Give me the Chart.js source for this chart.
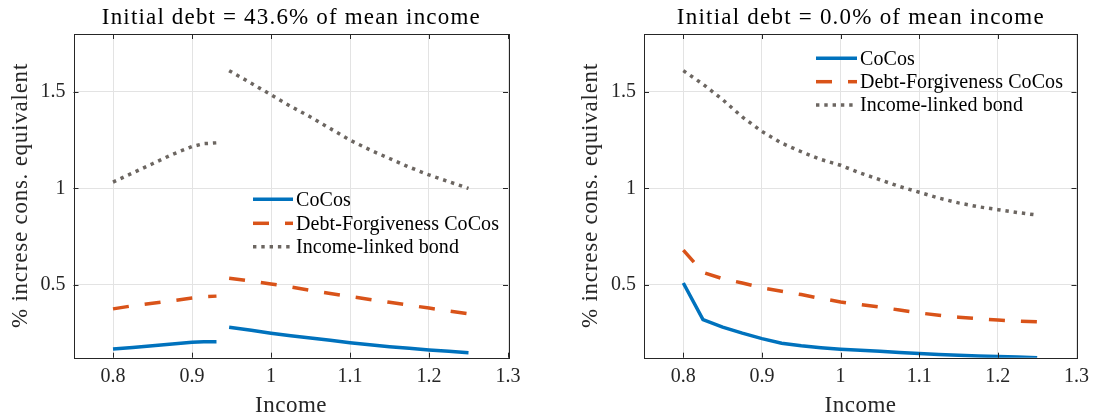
<!DOCTYPE html>
<html>
<head>
<meta charset="utf-8">
<script src="https://cdn.jsdelivr.net/npm/chart.js@4.4.1/dist/chart.umd.min.js"></script>
<style>
  html, body { margin: 0; padding: 0; background: #fff; }
  #wrap { position: relative; width: 1096px; height: 416px; }
  canvas { position: absolute; top: 0; }
</style>
</head>
<body>
<div id="wrap">
  <canvas id="c1" width="548" height="416" style="left:0"></canvas>
  <canvas id="c2" width="548" height="416" style="left:548px"></canvas>
</div>
<script>
// ---------------- data ----------------
const seriesNames = ["CoCos", "Debt-Forgiveness CoCos", "Income-linked bond"];
const xTickValues = [0.8, 0.9, 1.0, 1.1, 1.2, 1.3];
const yTickValues = [0.5, 1.0, 1.5];

// Left panel: initial debt = 43.6% (gap between 0.931 and 0.947)
const leftIncome = [0.8, 0.825, 0.85, 0.875, 0.9, 0.915, 0.931, 0.94, 0.947, 0.975, 1.0, 1.025, 1.05, 1.075, 1.1, 1.125, 1.15, 1.175, 1.2, 1.225, 1.25];
const leftCoCos  = [0.168, 0.176, 0.185, 0.194, 0.203, 0.205, 0.206, null, 0.281, 0.265, 0.25, 0.237, 0.225, 0.213, 0.201, 0.19, 0.18, 0.172, 0.163, 0.156, 0.149];
const leftDFCoCos = [0.376, 0.392, 0.405, 0.418, 0.432, 0.439, 0.442, null, 0.535, 0.52, 0.505, 0.49, 0.472, 0.456, 0.44, 0.425, 0.41, 0.395, 0.38, 0.365, 0.351];
const leftILB    = [1.033, 1.08, 1.128, 1.176, 1.217, 1.232, 1.236, null, 1.61, 1.545, 1.485, 1.425, 1.37, 1.31, 1.25, 1.2, 1.155, 1.11, 1.07, 1.035, 1.0];

// Right panel: initial debt = 0.0%
const rightIncome = [0.8, 0.825, 0.85, 0.875, 0.9, 0.925, 0.95, 0.975, 1.0, 1.025, 1.05, 1.075, 1.1, 1.125, 1.15, 1.175, 1.2, 1.225, 1.25];
const rightCoCos  = [0.51, 0.32, 0.281, 0.25, 0.222, 0.198, 0.185, 0.175, 0.167, 0.161, 0.156, 0.15, 0.145, 0.14, 0.136, 0.132, 0.129, 0.126, 0.123];
const rightDFCoCos = [0.68, 0.565, 0.532, 0.51, 0.485, 0.467, 0.45, 0.43, 0.412, 0.398, 0.385, 0.37, 0.355, 0.343, 0.333, 0.325, 0.318, 0.313, 0.309];
const rightILB    = [1.61, 1.54, 1.46, 1.37, 1.295, 1.235, 1.19, 1.15, 1.12, 1.08, 1.045, 1.01, 0.98, 0.95, 0.925, 0.905, 0.89, 0.875, 0.862];

const titles = ["Initial debt = 43.6% of mean income", "Initial debt = 0.0% of mean income"];
const xTitle = "Income";
const yTitle = "% increse cons. equivalent";

// ---------------- styling ----------------
const FONT = "'Liberation Serif', 'Times New Roman', serif";
const AX = "#262626";
const GRID = "#e3e3e3";
const styles = [
  { color: "#0072BD", dash: [] },
  { color: "#D95319", dash: [16, 16] },
  { color: "#6c6661", dash: [3.4, 4.9] }
];

function pts(xs, ys) { return xs.map((x, i) => ({ x: x, y: ys[i] })); }

// draw text stretched (via letter spacing) to a target width, centred at x
function fitted(ctx, text, x, y, size, targetW, align) {
  ctx.font = size + "px " + FONT;
  ctx.letterSpacing = "0px";
  const w = ctx.measureText(text).width;
  const sp = Math.max(0, (targetW - w) / text.length);
  ctx.letterSpacing = sp + "px";
  ctx.textAlign = align || "center";
  ctx.fillText(text, (align === "left") ? x : x + sp / 2, y);
  ctx.letterSpacing = "0px";
  return sp;
}

const framePlugin = {
  id: "frame",
  afterDraw(chart, args, opts) {
    const { ctx, chartArea: a, scales } = chart;
    ctx.save();
    ctx.strokeStyle = AX;
    ctx.lineWidth = 1;
    ctx.strokeRect(Math.round(a.left) + 0.5, Math.round(a.top) + 0.5, Math.round(a.right - a.left), Math.round(a.bottom - a.top));
    const tl = 5;
    ctx.beginPath();
    xTickValues.forEach(v => {
      const px = Math.round(scales.x.getPixelForValue(v)) + 0.5;
      ctx.moveTo(px, a.bottom); ctx.lineTo(px, a.bottom - tl);
      ctx.moveTo(px, a.top); ctx.lineTo(px, a.top + tl);
    });
    yTickValues.forEach(v => {
      const py = Math.round(scales.y.getPixelForValue(v)) + 0.5;
      ctx.moveTo(a.left, py); ctx.lineTo(a.left + tl, py);
      ctx.moveTo(a.right, py); ctx.lineTo(a.right - tl, py);
    });
    ctx.stroke();

    // titles
    const cx = (a.left + a.right) / 2;
    const cy = (a.top + a.bottom) / 2;
    ctx.textBaseline = "alphabetic";
    ctx.fillStyle = "#000";
    fitted(ctx, opts.title, cx, 23.5, 23, opts.titleW);
    ctx.fillStyle = AX;
    fitted(ctx, xTitle, cx, 411.7, 23, 72);
    ctx.save();
    ctx.translate(opts.yTitleX, cy);
    ctx.rotate(-Math.PI / 2);
    fitted(ctx, yTitle, 0, 0, 23, 265);
    ctx.restore();
    ctx.restore();
  }
};

const legendPlugin = {
  id: "boxLegend",
  afterDraw(chart, args, opts) {
    const { ctx } = chart;
    ctx.save();
    ctx.font = "20px " + FONT;
    const w = ctx.measureText(seriesNames[1]).width;
    const sp = Math.max(0, (203 - w) / seriesNames[1].length);
    ctx.textBaseline = "middle";
    ctx.fillStyle = "#000";
    chart.data.datasets.forEach((ds, i) => {
      const y = opts.rows[i];
      ctx.beginPath();
      ctx.strokeStyle = ds.borderColor;
      ctx.lineWidth = ds.borderWidth;
      ctx.setLineDash(ds.borderDash || []);
      ctx.moveTo(opts.x, y);
      ctx.lineTo(opts.x + opts.len, y);
      ctx.stroke();
      ctx.setLineDash([]);
      ctx.letterSpacing = sp + "px";
      ctx.textAlign = "left";
      ctx.fillText(ds.label, opts.x + opts.len + 3, y + 1);
      ctx.letterSpacing = "0px";
    });
    ctx.restore();
  }
};

function makeChart(id, title, titleW, xs, ys, yAxisWidth, rightPad, yTitleX, legend) {
  const datasets = ys.map((arr, i) => ({
    label: seriesNames[i],
    data: pts(xs, arr),
    borderColor: styles[i].color,
    borderDash: styles[i].dash,
    borderWidth: 3.5,
    borderCapStyle: "butt",
    pointRadius: 0,
    tension: 0,
    spanGaps: false,
    fill: false
  }));
  return new Chart(document.getElementById(id), {
    type: "line",
    data: { datasets },
    plugins: [framePlugin, legendPlugin],
    options: {
      responsive: false,
      animation: false,
      devicePixelRatio: 1,
      layout: { padding: { left: 0, right: rightPad, top: 34, bottom: 0 } },
      plugins: {
        legend: { display: false },
        tooltip: { enabled: false },
        title: { display: false },
        frame: { title: title, titleW: titleW, yTitleX: yTitleX },
        boxLegend: legend
      },
      scales: {
        x: {
          type: "linear", min: 0.75, max: 1.3,
          afterBuildTicks: s => { s.ticks = xTickValues.map(v => ({ value: v })); },
          afterFit: s => { s.height = 58.3; },
          ticks: {
            color: AX, padding: 7,
            font: { family: FONT, size: 20 },
            callback: v => String(Math.round(v * 10) / 10)
          },
          grid: { color: GRID, drawTicks: false, lineWidth: 1 },
          border: { display: false }
        },
        y: {
          type: "linear", min: 0.123, max: 1.8,
          afterBuildTicks: s => { s.ticks = yTickValues.map(v => ({ value: v })); },
          afterFit: s => { s.width = yAxisWidth; },
          ticks: {
            color: AX, padding: 8,
            font: { family: FONT, size: 20 },
            callback: v => String(v)
          },
          grid: { color: GRID, drawTicks: false, lineWidth: 1 },
          border: { display: false }
        }
      }
    }
  });
}

makeChart("c1", titles[0], 379, leftIncome, [leftCoCos, leftDFCoCos, leftILB], 73.5, 40, 26.5,
  { x: 253, len: 40, rows: [199.3, 223.3, 246.7] });
makeChart("c2", titles[1], 368, rightIncome, [rightCoCos, rightDFCoCos, rightILB], 96, 18.5, 49,
  { x: 268, len: 41, rows: [58.3, 81.7, 105] });
</script>
</body>
</html>
